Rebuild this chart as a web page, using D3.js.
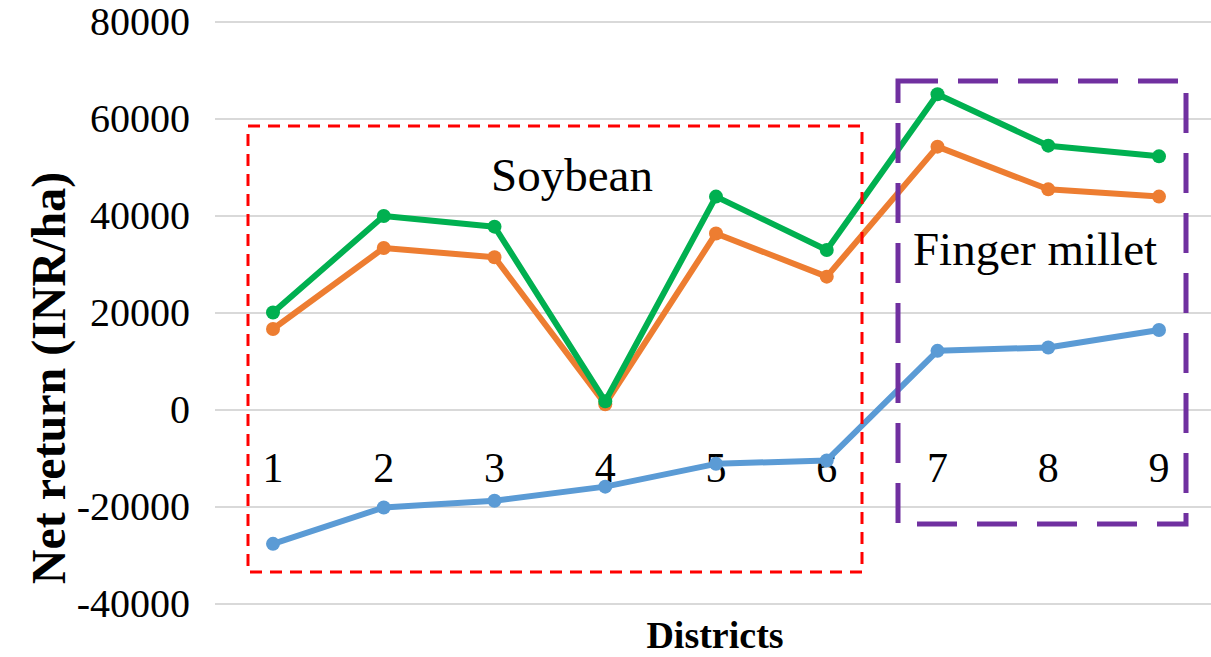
<!DOCTYPE html>
<html>
<head>
<meta charset="utf-8">
<script src="https://cdn.jsdelivr.net/npm/d3@7"></script>
<style>
  body { margin: 0; background: #fff; }
  svg text { font-family: "Liberation Serif", "Times New Roman", serif; fill: #000; }
</style>
</head>
<body>
<div id="chart"></div>
<script>
// chart size
var w = 1211;
var h = 657;

// data
var districts = ["1", "2", "3", "4", "5", "6", "7", "8", "9"];
var seriesGreen = [20100, 40000, 37800, 1800, 44000, 33000, 65100, 54500, 52300];
var seriesOrange = [16700, 33400, 31500, 1200, 36400, 27500, 54300, 45500, 44000];
var seriesBlue = [-27600, -20100, -18700, -15800, -11100, -10400, 12200, 12900, 16500];
var yTicks = [-40000, -20000, 0, 20000, 40000, 60000, 80000];

var series = [
  { values: seriesBlue, color: "#5b9bd5" },
  { values: seriesOrange, color: "#ed7d31" },
  { values: seriesGreen, color: "#00b050" }
];

var svg = d3.select("#chart").append("svg")
    .attr("width", w)
    .attr("height", h);

// scales
var x = d3.scalePoint().domain(districts).range([273, 1159]);
var y = d3.scaleLinear().domain([-40000, 80000]).range([604, 22]);

// gridlines
svg.append("g")
  .selectAll("line")
  .data(yTicks)
  .enter().append("line")
    .attr("x1", 215)
    .attr("x2", w)
    .attr("y1", function(d) { return y(d); })
    .attr("y2", function(d) { return y(d); })
    .attr("stroke", "#d9d9d9")
    .attr("stroke-width", 2);

// y axis labels (no axis line), plain hyphen for negatives like the original
var yAxis = svg.append("g")
    .attr("transform", "translate(190,0)")
    .call(d3.axisLeft(y).tickValues(yTicks).tickSize(0).tickPadding(0)
      .tickFormat(function(d) { return String(d); }));
yAxis.attr("font-family", null);
yAxis.select(".domain").remove();
yAxis.selectAll("text")
    .style("font-family", "'Liberation Serif', 'Times New Roman', serif")
    .attr("font-size", 40)
    .attr("fill", "#000");

// district numbers sit just under the zero line
svg.append("g")
  .selectAll("text")
  .data(districts)
  .enter().append("text")
    .attr("x", function(d) { return x(d); })
    .attr("y", y(0) + 72)
    .attr("text-anchor", "middle")
    .attr("font-size", 42)
    .text(function(d) { return d; });

// lines and markers
var line = d3.line()
    .x(function(d, i) { return x(districts[i]); })
    .y(function(d) { return y(d); });

series.forEach(function(s) {
  svg.append("path")
    .datum(s.values)
    .attr("fill", "none")
    .attr("stroke", s.color)
    .attr("stroke-width", 6)
    .attr("stroke-linejoin", "round")
    .attr("d", line);

  svg.append("g")
    .selectAll("circle")
    .data(s.values)
    .enter().append("circle")
      .attr("cx", function(d, i) { return x(districts[i]); })
      .attr("cy", function(d) { return y(d); })
      .attr("r", 7)
      .attr("fill", s.color);
});

// crop boxes
svg.append("rect")
    .attr("x", 248).attr("y", 126)
    .attr("width", 614).attr("height", 446)
    .attr("fill", "none")
    .attr("stroke", "#ff0000")
    .attr("stroke-width", 3)
    .attr("stroke-dasharray", "12,8");

svg.append("rect")
    .attr("x", 898).attr("y", 81)
    .attr("width", 288).attr("height", 443)
    .attr("fill", "none")
    .attr("stroke", "#7030a0")
    .attr("stroke-width", 5)
    .attr("stroke-dasharray", "40,20");

svg.append("text")
    .attr("x", 572).attr("y", 191)
    .attr("text-anchor", "middle")
    .attr("font-size", 47)
    .text("Soybean");

svg.append("text")
    .attr("x", 1035).attr("y", 265)
    .attr("text-anchor", "middle")
    .attr("font-size", 47)
    .text("Finger millet");

// axis titles
svg.append("text")
    .attr("transform", "translate(65,378) rotate(-90)")
    .attr("text-anchor", "middle")
    .attr("font-size", 48)
    .attr("font-weight", "bold")
    .text("Net return (INR/ha)");

svg.append("text")
    .attr("x", 715).attr("y", 648)
    .attr("text-anchor", "middle")
    .attr("font-size", 38)
    .attr("font-weight", "bold")
    .text("Districts");
</script>
</body>
</html>
